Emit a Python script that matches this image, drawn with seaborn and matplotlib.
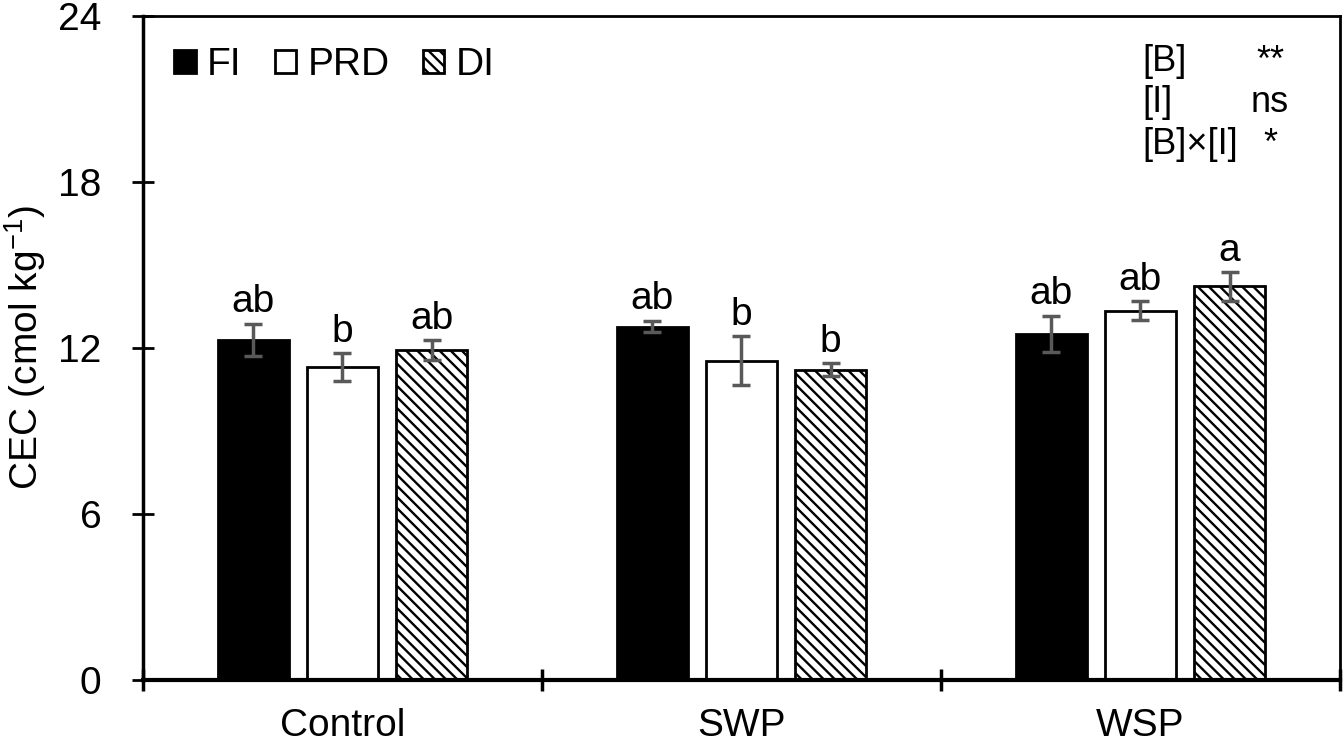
import numpy as np
import pandas as pd
import seaborn as sns
import matplotlib
matplotlib.use('Agg')
from matplotlib import pyplot as plt

# data
biochar = ['Control', 'SWP', 'WSP']
irrigation = ['FI', 'PRD', 'DI']
fi_mean = [12.30, 12.78, 12.52]
prd_mean = [11.32, 11.55, 13.35]
di_mean = [11.94, 11.22, 14.24]
fi_err = [0.58, 0.21, 0.66]
prd_err = [0.50, 0.89, 0.34]
di_err = [0.36, 0.23, 0.52]
fi_letters = ['ab', 'ab', 'ab']
prd_letters = ['b', 'b', 'ab']
di_letters = ['ab', 'b', 'a']
stat_terms = ['[B]', '[I]', '[B]\u00d7[I]']
stat_signif = ['**', 'ns', '*']

sns.set_style('white')
plt.rcParams['font.family'] = ['Liberation Sans', 'DejaVu Sans']
plt.rcParams['mathtext.default'] = 'regular'
plt.rcParams['hatch.linewidth'] = 1.7
for k in ['text.color', 'axes.labelcolor', 'xtick.color', 'ytick.color']:
    plt.rcParams[k] = 'black'

df = pd.DataFrame({
    'biochar': biochar * 3,
    'irrigation': np.repeat(irrigation, 3),
    'cec': fi_mean + prd_mean + di_mean,
})
errs = [fi_err, prd_err, di_err]
letters = [fi_letters, prd_letters, di_letters]
hatch = '\\\\\\'

fig = plt.figure(figsize=(13.44, 7.42), dpi=100)
ax = fig.add_axes([0.1064, 0.0836, 0.8906, 0.8944])

sns.barplot(data=df, x='biochar', y='cec', hue='irrigation', order=biochar,
            hue_order=irrigation, palette=['black', 'white', 'white'],
            width=0.67, gap=0.2, edgecolor='black', linewidth=2,
            errorbar=None, ax=ax)

bar_groups = list(ax.containers)[:3]
for i, cont in enumerate(bar_groups):
    xs = [b.get_x() + b.get_width() / 2 for b in cont]
    ys = [b.get_height() for b in cont]
    if i == 2:
        for b in cont:
            b.set_hatch(hatch)
    ax.errorbar(xs, ys, yerr=errs[i], fmt='none', ecolor='#595959',
                elinewidth=2.5, capsize=6.5, capthick=2.5, zorder=5)
    for x, y, e, t in zip(xs, ys, errs[i], letters[i]):
        ax.text(x, y + e + 0.12, t, ha='center', va='bottom', fontsize=28)

ax.set_ylim(0, 24)
ax.set_xlim(-0.5, 2.5)
ax.set_yticks([0, 6, 12, 18, 24])
ax.tick_params(axis='y', direction='inout', length=16, width=2, labelsize=28, left=True, pad=22)
ax.set_xticks([0, 1, 2])
ax.set_xticks([-0.5, 0.5, 1.5, 2.5], minor=True)
ax.tick_params(axis='x', which='major', length=0, labelsize=28, pad=20)
ax.tick_params(axis='x', which='minor', direction='inout', length=16, width=2.5, bottom=True)
ax.set_xlabel('')
ax.set_ylabel('CEC (cmol kg$^{-1}$)', fontsize=28, labelpad=7)
for s in ax.spines.values():
    s.set_color('black')
    s.set_linewidth(2)
ax.spines['bottom'].set_linewidth(3)
ax.spines['left'].set_linewidth(2.5)

leg = ax.legend(loc='upper left', ncol=3, frameon=False, fontsize=28,
                handlelength=0.55, handleheight=0.55, handletextpad=0.3,
                columnspacing=0.85, borderaxespad=0.4, bbox_to_anchor=(0.0, 1.0))
leg.legend_handles[2].set_hatch(hatch)
for h in leg.legend_handles:
    h.set_linewidth(2)

for k, (term, sig) in enumerate(zip(stat_terms, stat_signif)):
    yy = 0.932 - k * 0.0626
    ax.text(0.835, yy, term, transform=ax.transAxes, fontsize=26, va='center', ha='left')
    ax.text(0.9415, yy, sig, transform=ax.transAxes, fontsize=26, va='center', ha='center')

fig.savefig('out.png', dpi=100)
